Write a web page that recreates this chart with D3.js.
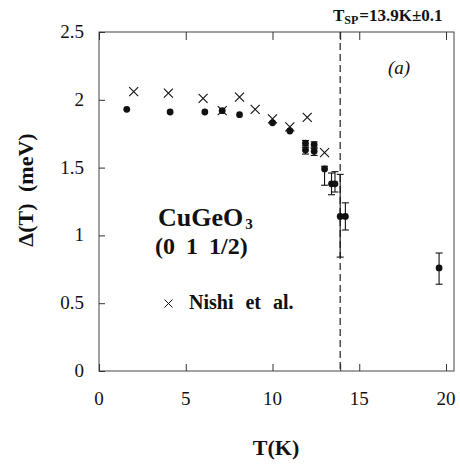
<!DOCTYPE html>
<html><head><meta charset="utf-8">
<script src="https://cdn.jsdelivr.net/npm/d3@7"></script>
<style>body{margin:0;background:#fff}svg{display:block}
svg text{font-family:"Liberation Serif","DejaVu Serif","Times New Roman",Times,serif;}</style>
</head><body>
<script>
// ---- data ----
const gapT  = [1.6, 4.1, 6.1, 7.1, 8.1, 10.0, 11.0, 11.9, 11.9, 12.4, 12.4, 13.0, 13.4, 13.6, 13.9, 14.2, 19.6];
const gapD  = [1.93,1.91,1.91,1.92,1.89,1.83, 1.77, 1.68, 1.63, 1.67, 1.62, 1.49, 1.38, 1.38, 1.14, 1.14, 0.76];
const gapLo = [null,null,null,null,null,null, null, 1.66, 1.60, 1.65, 1.59, 1.37, 1.30, 1.32, 0.84, 1.04, 0.64];
const gapHi = [null,null,null,null,null,null, null, 1.70, 1.65, 1.69, 1.64, 1.51, 1.46, 1.47, 1.45, 1.24, 0.87];
const nishiT = [2.0, 4.0, 6.0, 7.1, 8.1, 9.0, 10.0, 11.0, 12.0, 13.0];
const nishiD = [2.06,2.05,2.01,1.92,2.02,1.93,1.86, 1.80, 1.87, 1.61];
const xTicks = [0, 5, 10, 15, 20];
const yTicks = [0, 0.5, 1, 1.5, 2, 2.5];
const yTickLabels = ["0", "0.5", "1", "1.5", "2", "2.5"];
const Tsp = 13.9;

const W = 460, H = 465;
const svg = d3.select("body").append("svg").attr("width", W).attr("height", H);
const x = d3.scaleLinear().domain([0, 20.46]).range([99, 454]);
const y = d3.scaleLinear().domain([0, 2.5]).range([371, 32]);
const ink = "#111";

// frame
svg.append("rect").attr("x", x(0)).attr("y", y(2.5))
  .attr("width", x(20.46) - x(0)).attr("height", y(0) - y(2.5))
  .attr("fill", "none").attr("stroke", "#444").attr("stroke-width", 1);

// axes (inward ticks)
const gB = svg.append("g").attr("transform", `translate(0,${y(0)})`)
  .call(d3.axisBottom(x).tickValues(xTicks.concat([Tsp])).tickSize(-7).tickFormat(""));
const gT = svg.append("g").attr("transform", `translate(0,${y(2.5)})`)
  .call(d3.axisTop(x).tickValues(xTicks.concat([Tsp])).tickSize(-8).tickFormat(""));
const gL = svg.append("g").attr("transform", `translate(${x(0)},0)`)
  .call(d3.axisLeft(y).tickValues(yTicks).tickSize(-6).tickFormat(""));
[gB, gT, gL].forEach(g => {
  g.select(".domain").remove();
  g.selectAll(".tick line").attr("stroke", "#333").attr("stroke-width", 1);
});

// tick labels
svg.append("g").selectAll("text").data(xTicks).join("text")
  .attr("x", d => x(d)).attr("y", 405).attr("text-anchor", "middle")
  .attr("font-size", 19).attr("fill", ink).text(d => d);
svg.append("g").selectAll("text").data(yTicks).join("text")
  .attr("x", 84).attr("y", d => y(d) + 6).attr("text-anchor", "end")
  .attr("font-size", 19).attr("fill", ink)
  .text((d, i) => yTickLabels[i]);

// dashed line at Tsp
svg.append("line").attr("x1", x(Tsp)).attr("x2", x(Tsp)).attr("y1", y(2.5)).attr("y2", y(0))
  .attr("stroke", "#222").attr("stroke-width", 1.2).attr("stroke-dasharray", "7,4");

// error bars
const eb = svg.append("g").attr("stroke", ink).attr("stroke-width", 1.1);
gapT.forEach((t, i) => {
  if (gapLo[i] == null) return;
  const cx = x(t);
  eb.append("line").attr("x1", cx).attr("x2", cx).attr("y1", y(gapLo[i])).attr("y2", y(gapHi[i]));
  eb.append("line").attr("x1", cx - 3.5).attr("x2", cx + 3.5).attr("y1", y(gapLo[i])).attr("y2", y(gapLo[i]));
  eb.append("line").attr("x1", cx - 3.5).attr("x2", cx + 3.5).attr("y1", y(gapHi[i])).attr("y2", y(gapHi[i]));
});

// filled circles
svg.append("g").selectAll("circle").data(gapT).join("circle")
  .attr("cx", d => x(d)).attr("cy", (d, i) => y(gapD[i])).attr("r", 3.4).attr("fill", ink);

// crosses
const crossPath = (cx, cy, c) => `M${cx-c},${cy-c}L${cx+c},${cy+c}M${cx-c},${cy+c}L${cx+c},${cy-c}`;
svg.append("g").selectAll("path").data(nishiT).join("path")
  .attr("d", (d, i) => crossPath(x(d), y(nishiD[i]), 4.5))
  .attr("stroke", ink).attr("stroke-width", 1.1).attr("fill", "none");

// annotations
const cu = svg.append("text").attr("x", 158).attr("y", 226)
  .attr("font-weight", "bold").attr("font-size", 26).attr("fill", ink);
cu.append("tspan").text("CuGeO");
cu.append("tspan").attr("dy", 3).attr("font-size", 15).attr("dx", 2).text("3");
svg.append("text").attr("x", 155).attr("y", 254)
  .attr("font-weight", "bold").attr("font-size", 24)
  .attr("word-spacing", 5).attr("fill", ink).text("(0 1 1/2)");
svg.append("path").attr("d", crossPath(168.5, 303.5, 4))
  .attr("stroke", ink).attr("stroke-width", 1).attr("fill", "none");
svg.append("text").attr("x", 189).attr("y", 309)
  .attr("font-weight", "bold").attr("font-size", 20)
  .attr("word-spacing", 7).attr("fill", ink).text("Nishi et al.");

const ts = svg.append("text").attr("x", 333).attr("y", 21)
  .attr("font-weight", "bold").attr("font-size", 17).attr("fill", ink);
ts.append("tspan").text("T");
ts.append("tspan").attr("font-size", 12).attr("dy", 3).text("SP");
ts.append("tspan").attr("dy", -3).attr("dx", 1).text("=13.9K±0.1");

svg.append("text").attr("x", 388).attr("y", 74)
  .attr("font-style", "italic").attr("font-size", 19)
  .attr("word-spacing", 2).attr("fill", ink).text("(a)");

// axis titles
svg.append("text").attr("x", 276).attr("y", 455).attr("text-anchor", "middle")
  .attr("font-weight", "bold").attr("font-size", 22).attr("fill", ink).text("T(K)");
svg.append("text").attr("transform", `translate(33,190) rotate(-90)`).attr("text-anchor", "middle")
  .attr("font-weight", "bold").attr("font-size", 22)
  .attr("word-spacing", 6).attr("fill", ink).text("Δ(T) (meV)");
</script>
</body></html>
